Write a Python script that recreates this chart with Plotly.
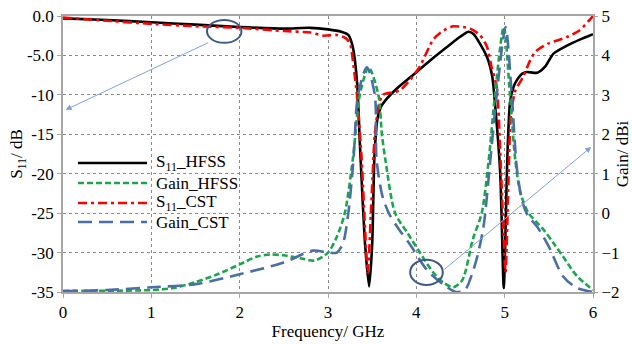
import plotly.graph_objects as go

# ---------------- data ----------------
f_s11_hfss = [0, 0.5, 1.0, 1.5, 2.0, 2.5, 2.8, 3.0, 3.15, 3.23, 3.28, 3.33, 3.36, 3.42, 3.465, 3.50, 3.525, 3.56, 3.6, 3.65,
              3.78, 3.96, 4.16, 4.35, 4.5, 4.59, 4.65, 4.72, 4.8, 4.86, 4.89, 4.95, 4.99, 5.03, 5.06, 5.1, 5.14, 5.2, 5.25,
              5.37, 5.46, 5.55, 5.7, 5.85, 6.0]
s11_hfss = [-0.3, -0.5, -0.8, -1.1, -1.4, -1.6, -1.5, -1.7, -2.0, -2.4, -3.9, -8.5, -16, -29, -34.3, -29, -18, -13, -11.5, -10.7,
            -9.2, -7.5, -5.6, -3.9, -2.6, -2.0, -2.3, -3.5, -5.2, -7.7, -11, -20, -34.5, -18, -11, -9, -8.1, -7.3, -7.1,
            -7.2, -6.4, -4.8, -3.8, -3.0, -2.3]

f_s11_cst = [0, 0.5, 1.0, 1.5, 2.0, 2.5, 2.8, 2.95, 3.1, 3.2, 3.25, 3.29, 3.33, 3.38, 3.45, 3.49, 3.53, 3.58, 3.62, 3.67,
             3.75, 3.82, 3.93, 4.04, 4.19, 4.3, 4.42, 4.53, 4.61, 4.72, 4.80, 4.85, 4.91, 4.96, 5.01, 5.04, 5.07, 5.12,
             5.21, 5.29, 5.35, 5.49, 5.7, 5.85, 6.0]
s11_cst = [-0.2, -0.6, -1.0, -1.3, -1.5, -1.9, -2.1, -2.5, -2.4, -2.8, -3.5, -6.4, -10.3, -18, -32.5, -24, -15, -11, -10, -9.8,
           -9.7, -9.4, -8.1, -6.4, -3.0, -1.9, -1.3, -1.4, -1.6, -2.4, -3.9, -6.4, -9, -20, -32.5, -22, -12.5, -9.5,
           -7.7, -5.6, -4.5, -3.5, -2.7, -1.8, 0.0]

f_gain_hfss = [0, 0.5, 1.0, 1.25, 1.5, 1.75, 2.0, 2.2, 2.35, 2.5, 2.7, 2.85, 3.0, 3.1, 3.19, 3.28, 3.31, 3.36, 3.46, 3.57,
               3.61, 3.65, 3.76, 3.9, 4.04, 4.19, 4.3, 4.42, 4.52, 4.64, 4.74, 4.82, 4.89, 4.99, 5.06, 5.12, 5.18, 5.27,
               5.35, 5.44, 5.55, 5.66, 5.82, 6.0]
gain_hfss = [-1.97, -1.97, -1.95, -1.9, -1.75, -1.55, -1.3, -1.1, -1.05, -1.07, -1.15, -1.2, -1.0, -0.6, 0.0, 1.35, 2.0, 3.0,
             3.7, 3.0, 2.0, 1.35, 0.0, -0.5, -1.0, -1.5, -1.75, -1.88, -1.7, -0.66, 0.0, 1.35, 3.0, 4.72, 3.0, 1.35, 0.5,
             0.0, -0.2, -0.42, -0.75, -1.1, -1.6, -1.95]

f_gain_cst = [0, 0.5, 1.0, 1.5, 2.0, 2.5, 2.83, 3.0, 3.1, 3.17, 3.23, 3.29, 3.34, 3.44, 3.53, 3.55, 3.62, 3.70, 3.8, 3.93,
              4.12, 4.3, 4.45, 4.55, 4.63, 4.69, 4.76, 4.84, 4.91, 5.01, 5.08, 5.14, 5.2, 5.26, 5.37, 5.5, 5.66, 5.82, 6.0]
gain_cst = [-1.98, -1.95, -1.88, -1.8, -1.55, -1.25, -0.95, -1.0, -1.0, -0.76, 0.0, 1.4, 3.0, 3.7, 3.0, 1.35, 0.4, -0.05,
            -0.4, -0.8, -1.44, -1.8, -2.0, -1.95, -1.55, -1.1, -0.35, 1.4, 3.0, 4.72, 3.0, 1.1, 0.3, -0.05, -0.35, -0.85,
            -1.6, -1.9, -2.0]

s11_ticks = [-35, -30, -25, -20, -15, -10, -5, 0]
s11_ticktext = ["-35", "-30", "-25", "-20", "-15", "-10", "-5.0", "0.0"]
gain_ticks = [-2, -1, 0, 1, 2, 3, 4, 5]

legend_names = ["S<sub>11</sub>_HFSS", "Gain_HFSS", "S<sub>11</sub>_CST", "Gain_CST"]

# ---------------- styles ----------------
FONT = "Times New Roman, Liberation Serif, Tinos, serif"
C_BLACK = "#000000"
C_GREEN = "#1aa64a"
C_RED = "#ff0000"
C_BLUE = "#4a6fa5"
styles = [
    dict(color=C_BLACK, width=2.6, dash="solid"),
    dict(color=C_GREEN, width=2.6, dash="6px,3px"),
    dict(color=C_RED, width=2.6, dash="9px,4px,3px,4px"),
    dict(color=C_BLUE, width=2.6, dash="14px,7px"),
]

W, H = 632, 344
L, R, T, B = 63, 39, 16, 52
PW, PH = W - L - R, H - T - B

fig = go.Figure()
fig.add_trace(go.Scatter(x=f_s11_hfss, y=s11_hfss, mode="lines", line=dict(**styles[0], shape="spline", smoothing=0.6),
                         name=legend_names[0], yaxis="y"))
fig.add_trace(go.Scatter(x=f_gain_hfss, y=gain_hfss, mode="lines", line=dict(**styles[1], shape="spline", smoothing=0.8),
                         name=legend_names[1], yaxis="y2"))
fig.add_trace(go.Scatter(x=f_s11_cst, y=s11_cst, mode="lines", line=dict(**styles[2], shape="spline", smoothing=0.6),
                         name=legend_names[2], yaxis="y"))
fig.add_trace(go.Scatter(x=f_gain_cst, y=gain_cst, mode="lines", line=dict(**styles[3], shape="spline", smoothing=0.8),
                         name=legend_names[3], yaxis="y2"))

# ---------------- manual legend ----------------
def px_to_paper(px, py):
    return (px - L) / PW, (H - B - py) / PH

shapes = []
annotations = []
leg_y = [163, 183, 203, 222]
for i, name in enumerate(legend_names):
    x0, y0 = px_to_paper(78, leg_y[i])
    x1, _ = px_to_paper(147, leg_y[i])
    shapes.append(dict(type="line", xref="paper", yref="paper", x0=x0, x1=x1, y0=y0, y1=y0,
                       line=dict(color=styles[i]["color"], width=2.6, dash=styles[i]["dash"])))
    tx, _ = px_to_paper(154, leg_y[i])
    annotations.append(dict(xref="paper", yref="paper", x=tx, y=y0, text=name, showarrow=False,
                            xanchor="left", yanchor="middle", font=dict(family=FONT, size=17, color="black")))

# ---------------- ellipses and arrows ----------------
ELL = "#3d5a86"
shapes.append(dict(type="circle", xref="x", yref="y", x0=1.63, x1=2.02, y0=-3.4, y1=-0.5,
                   line=dict(color=ELL, width=2)))
shapes.append(dict(type="circle", xref="x", yref="y", x0=3.93, x1=4.30, y0=-34.1, y1=-30.9,
                   line=dict(color=ELL, width=2)))
ARR = "#7fa3d8"
annotations.append(dict(x=0.03, y=-11.9, ax=1.66, ay=-3.3, xref="x", yref="y", axref="x", ayref="y",
                        text="", showarrow=True, arrowhead=2, arrowsize=1.2, arrowwidth=1, arrowcolor=ARR))
annotations.append(dict(x=5.98, y=-16.6, ax=4.30, ay=-32.3, xref="x", yref="y", axref="x", ayref="y",
                        text="", showarrow=True, arrowhead=2, arrowsize=1.2, arrowwidth=1, arrowcolor=ARR))

GRID = "#8c8c8c"
FRAME = "#a6a6a6"
tickfont = dict(family=FONT, size=17, color="black")

fig.update_layout(
    width=W, height=H, autosize=False,
    margin=dict(l=L, r=R, t=T, b=B, pad=0),
    paper_bgcolor="white", plot_bgcolor="white",
    showlegend=False,
    font=dict(family=FONT, size=17, color="black"),
    xaxis=dict(range=[0, 6], tickvals=[0, 1, 2, 3, 4, 5, 6], ticktext=["0", "1", "2", "3", "4", "5", "6"],
               showgrid=True, gridcolor=GRID, griddash="dot", gridwidth=1, automargin=False,
               showline=True, linecolor=FRAME, linewidth=1.5, mirror=True,
               ticks="outside", ticklen=4, tickcolor=FRAME, tickfont=tickfont, zeroline=False,
               title=dict(text="Frequency/ GHz", font=dict(family=FONT, size=17), standoff=4)),
    yaxis=dict(range=[-35, 0], tickvals=s11_ticks, ticktext=s11_ticktext, automargin=False,
               showgrid=True, gridcolor=GRID, griddash="dot", gridwidth=1,
               showline=True, linecolor=FRAME, linewidth=1.5, mirror=True,
               ticks="outside", ticklen=4, tickcolor=FRAME, tickfont=tickfont, zeroline=False,
               title=dict(text="S<sub>11</sub>/ dB", font=dict(family=FONT, size=17), standoff=0)),
    yaxis2=dict(range=[-2, 5], tickvals=gain_ticks, overlaying="y", side="right", showgrid=False, automargin=False,
                ticks="outside", ticklen=4, tickcolor=FRAME, tickfont=tickfont, zeroline=False, showline=False,
                title=dict(text="Gain/ dBi", font=dict(family=FONT, size=17), standoff=4)),
    shapes=shapes,
    annotations=annotations,
)

fig.write_html("out.html")
